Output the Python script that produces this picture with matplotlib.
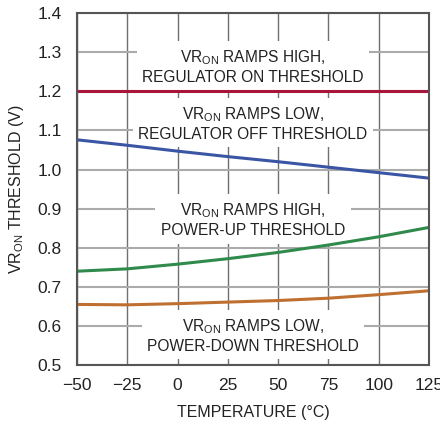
import numpy as np
import matplotlib.pyplot as plt

plt.rcParams['font.family'] = ['Liberation Sans', 'DejaVu Sans']
plt.rcParams['mathtext.fontset'] = 'custom'
plt.rcParams['mathtext.rm'] = 'Liberation Sans'
plt.rcParams['mathtext.it'] = 'Liberation Sans'

# data
temp = [-50, -25, 0, 25, 50, 75, 100, 125]
on_high = [1.2, 1.2, 1.2, 1.2, 1.2, 1.2, 1.2, 1.2]
off_low = [1.076, 1.062, 1.047, 1.033, 1.020, 1.006, 0.992, 0.978]
pwr_up = [0.740, 0.746, 0.758, 0.772, 0.788, 0.807, 0.828, 0.852]
pwr_down = [0.655, 0.654, 0.657, 0.661, 0.665, 0.671, 0.680, 0.690]

xticks = [-50, -25, 0, 25, 50, 75, 100, 125]
yticks = [0.5, 0.6, 0.7, 0.8, 0.9, 1.0, 1.1, 1.2, 1.3, 1.4]
xtick_labels = ['\u221250', '\u221225', '0', '25', '50', '75', '100', '125']

fig = plt.figure(figsize=(4.4, 4.23), dpi=100)
ax = fig.add_axes([0.175, 0.137, 0.8, 0.832])

for x in xticks:
    ax.axvline(x, color='#707070', lw=1.0, zorder=1)
for y in yticks:
    ax.axhline(y, color='#ababab', lw=1.5, zorder=1)

ax.plot(temp, on_high, color='#A8163C', lw=2.2, zorder=4)
ax.plot(temp, off_low, color='#3B55A5', lw=2.2, zorder=4)
ax.plot(temp, pwr_up, color='#2F8A4C', lw=2.2, zorder=4)
ax.plot(temp, pwr_down, color='#BF7030', lw=2.2, zorder=4)

box = dict(facecolor='white', edgecolor='none', pad=4)
vr = r'VR$_{\mathrm{ON}}$'
labels = [
    (1.264, vr + ' RAMPS HIGH,\nREGULATOR ON THRESHOLD'),
    (1.118, vr + ' RAMPS LOW,\nREGULATOR OFF THRESHOLD'),
    (0.872, vr + ' RAMPS HIGH,\nPOWER-UP THRESHOLD'),
    (0.576, vr + ' RAMPS LOW,\nPOWER-DOWN THRESHOLD'),
]
for yy, s in labels:
    ax.text(37.5, yy, s, ha='center', va='center', fontsize=11.2,
            color='#222222', bbox=box, zorder=3, linespacing=1.25)

ax.set_xlim(-50, 125)
ax.set_ylim(0.5, 1.4)
ax.set_xticks(xticks)
ax.set_xticklabels(xtick_labels)
ax.set_yticks(yticks)
ax.set_yticklabels(['%.1f' % v for v in yticks])
ax.tick_params(length=0, labelsize=12.5, colors='#222222', pad=9)
ax.tick_params(axis='y', pad=11)
for sp in ax.spines.values():
    sp.set_color('#555555')
    sp.set_linewidth(1.5)
    sp.set_zorder(5)

ax.set_xlabel('TEMPERATURE (\u00b0C)', fontsize=11.5, color='#222222', labelpad=9)
ax.set_ylabel(vr + ' THRESHOLD (V)', fontsize=11.5, color='#222222', labelpad=8)

fig.savefig('out.png', dpi=100)
